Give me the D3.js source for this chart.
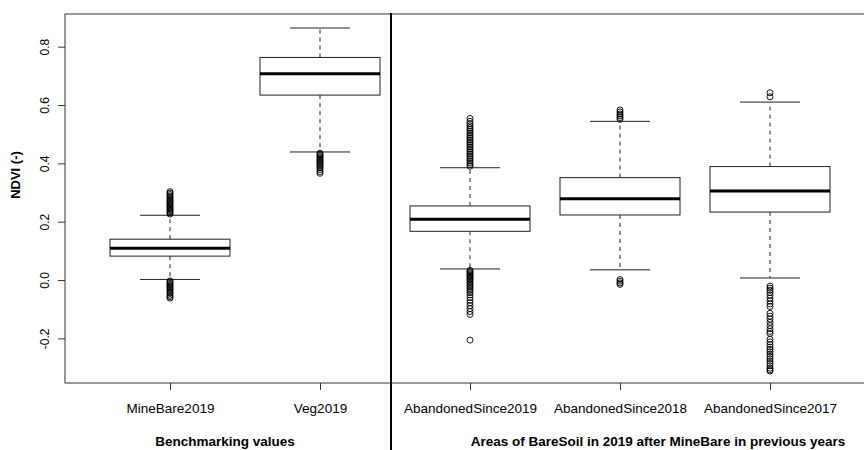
<!DOCTYPE html>
<html>
<head>
<meta charset="utf-8">
<script src="https://cdnjs.cloudflare.com/ajax/libs/d3/7.8.5/d3.min.js"></script>
<style>
  body { margin: 0; background: #fff; }
  svg { font-family: "Liberation Sans", Arial, Helvetica, sans-serif; }
</style>
</head>
<body>
<div class="boxChart"></div>
<script>

var width = 864,
    height = 450;

// groups and box stats
var groups = ["MineBare2019", "Veg2019", "AbandonedSince2019", "AbandonedSince2018", "AbandonedSince2017"];
var lowerWhisker = [0.002, 0.439, 0.038, 0.035, 0.007];
var q1 = [0.082, 0.634, 0.167, 0.223, 0.233];
var median = [0.109, 0.707, 0.208, 0.279, 0.305];
var q3 = [0.140, 0.763, 0.254, 0.351, 0.389];
var upperWhisker = [0.222, 0.864, 0.385, 0.544, 0.610];

var outliers = [
    [0.226, 0.230, 0.234, 0.238, 0.242, 0.246, 0.250, 0.254, 0.258, 0.262, 0.266, 0.270, 0.274, 0.278, 0.283, 0.288, 0.293, 0.298, 0.303,
     -0.003, -0.007, -0.011, -0.015, -0.019, -0.023, -0.027, -0.031, -0.036, -0.041, -0.046, -0.052, -0.057, -0.062],
    [0.435, 0.431, 0.427, 0.423, 0.419, 0.415, 0.411, 0.407, 0.403, 0.399, 0.395, 0.390, 0.385, 0.379, 0.372, 0.366],
    [0.390, 0.396, 0.402, 0.408, 0.414, 0.420, 0.426, 0.432, 0.438, 0.444, 0.450, 0.456, 0.462, 0.468, 0.474, 0.480, 0.486,
     0.492, 0.498, 0.504, 0.510, 0.516, 0.522, 0.529, 0.536, 0.544, 0.554,
     0.033, 0.029, 0.025, 0.021, 0.017, 0.013, 0.009, 0.005, 0.001, -0.004, -0.009, -0.014, -0.019, -0.024, -0.030, -0.036,
     -0.043, -0.051, -0.060, -0.069, -0.078, -0.088, -0.098, -0.108, -0.118, -0.206],
    [0.551, 0.557, 0.563, 0.569, 0.576, 0.583, 0.002, -0.004, -0.010, -0.015],
    [0.628, 0.642,
     -0.021, -0.028, -0.035, -0.043, -0.052, -0.062, -0.072, -0.082, -0.091,
     -0.114, -0.124, -0.134, -0.145, -0.156, -0.167, -0.176, -0.183,
     -0.203, -0.212, -0.221, -0.230, -0.238, -0.246, -0.254, -0.262, -0.270, -0.278, -0.286, -0.294, -0.302, -0.308, -0.312]
];

var yTicks = [-0.2, 0.0, 0.2, 0.4, 0.6, 0.8];

var frame = { left: 65, right: 900, top: 14, bottom: 383 };

var x = d3.scaleLinear()
    .domain([0, 4])
    .range([170, 770]);

var y = d3.scaleLinear()
    .domain([-0.353, 0.912])
    .range([frame.bottom, frame.top]);

var boxHalf = (x(1) - x(0)) * 0.4,
    capHalf = boxHalf / 2;

var svg = d3.select(".boxChart").append("svg")
    .attr("width", width)
    .attr("height", height);

// boxes
var box = svg.selectAll("g.box")
    .data(groups)
    .enter().append("g")
    .attr("class", "box");

box.append("line") // upper whisker
    .attr("x1", function(d, i) { return x(i); })
    .attr("x2", function(d, i) { return x(i); })
    .attr("y1", function(d, i) { return y(q3[i]); })
    .attr("y2", function(d, i) { return y(upperWhisker[i]); })
    .attr("stroke", "#222")
    .attr("stroke-dasharray", "4,4");

box.append("line") // lower whisker
    .attr("x1", function(d, i) { return x(i); })
    .attr("x2", function(d, i) { return x(i); })
    .attr("y1", function(d, i) { return y(q1[i]); })
    .attr("y2", function(d, i) { return y(lowerWhisker[i]); })
    .attr("stroke", "#222")
    .attr("stroke-dasharray", "4,4");

box.append("line")
    .attr("x1", function(d, i) { return x(i) - capHalf; })
    .attr("x2", function(d, i) { return x(i) + capHalf; })
    .attr("y1", function(d, i) { return y(upperWhisker[i]); })
    .attr("y2", function(d, i) { return y(upperWhisker[i]); })
    .attr("stroke", "#222");

box.append("line")
    .attr("x1", function(d, i) { return x(i) - capHalf; })
    .attr("x2", function(d, i) { return x(i) + capHalf; })
    .attr("y1", function(d, i) { return y(lowerWhisker[i]); })
    .attr("y2", function(d, i) { return y(lowerWhisker[i]); })
    .attr("stroke", "#222");

box.append("rect")
    .attr("x", function(d, i) { return x(i) - boxHalf; })
    .attr("width", boxHalf * 2)
    .attr("y", function(d, i) { return y(q3[i]); })
    .attr("height", function(d, i) { return y(q1[i]) - y(q3[i]); })
    .attr("fill", "#fff")
    .attr("stroke", "#222");

box.append("line") // median
    .attr("x1", function(d, i) { return x(i) - boxHalf; })
    .attr("x2", function(d, i) { return x(i) + boxHalf; })
    .attr("y1", function(d, i) { return y(median[i]); })
    .attr("y2", function(d, i) { return y(median[i]); })
    .attr("stroke", "#000")
    .attr("stroke-width", 3);

box.each(function(d, i) {
    d3.select(this).selectAll("circle")
        .data(outliers[i])
        .enter().append("circle")
        .attr("cx", x(i))
        .attr("cy", function(v) { return y(v); })
        .attr("r", 3)
        .attr("fill", "none")
        .attr("stroke", "#000")
        .attr("stroke-width", 0.9);
});

// frame
svg.append("rect")
    .attr("x", frame.left)
    .attr("y", frame.top)
    .attr("width", frame.right - frame.left)
    .attr("height", frame.bottom - frame.top)
    .attr("fill", "none")
    .attr("stroke", "#333");

// axes
var yAxis = svg.append("g")
    .attr("transform", "translate(" + frame.left + ",0)")
    .call(d3.axisLeft(y).tickValues(yTicks).tickSize(7).tickFormat(function(d) { return d.toFixed(1); }));
yAxis.select(".domain").remove();
yAxis.selectAll("line").attr("stroke", "#333");
yAxis.selectAll("text")
    .attr("transform", "rotate(-90)")
    .attr("x", 0)
    .attr("y", -16.5)
    .attr("dy", 0)
    .attr("text-anchor", "middle")
    .style("font-size", "12px")
    .style("font-family", "Liberation Sans, Arial, sans-serif")
    .attr("fill", "#000");

var xAxis = svg.append("g")
    .attr("transform", "translate(0," + frame.bottom + ")")
    .call(d3.axisBottom(x).tickValues([0, 1, 2, 3, 4]).tickSize(7).tickFormat(function(d) { return groups[d]; }));
xAxis.select(".domain").remove();
xAxis.selectAll("line").attr("stroke", "#333");
xAxis.selectAll("text")
    .attr("y", 0)
    .attr("dy", 30)
    .style("font-size", "13.5px")
    .style("font-family", "Liberation Sans, Arial, sans-serif")
    .attr("fill", "#000");

// separator between the two sets
svg.append("line")
    .attr("x1", 391)
    .attr("x2", 391)
    .attr("y1", 13)
    .attr("y2", height)
    .attr("stroke", "#000")
    .attr("stroke-width", 2);

svg.append("text")
    .attr("transform", "translate(20,175) rotate(-90)")
    .attr("text-anchor", "middle")
    .style("font-size", "13px")
    .style("font-weight", "bold")
    .text("NDVI (-)");

svg.append("text")
    .attr("x", 225)
    .attr("y", 446)
    .attr("text-anchor", "middle")
    .style("font-size", "13.5px")
    .style("font-weight", "bold")
    .text("Benchmarking values");

svg.append("text")
    .attr("x", 658)
    .attr("y", 446)
    .attr("text-anchor", "middle")
    .style("font-size", "13.5px")
    .style("font-weight", "bold")
    .text("Areas of BareSoil in 2019 after MineBare in previous years");

</script>
</body>
</html>
